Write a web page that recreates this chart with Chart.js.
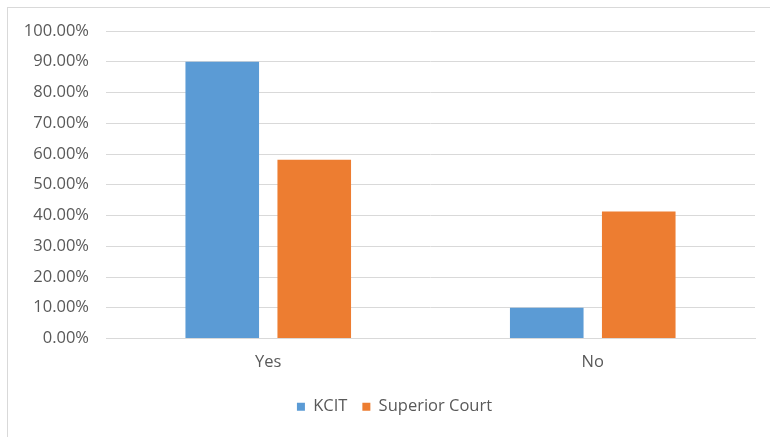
<!DOCTYPE html>
<html>
<head>
<meta charset="utf-8">
<script src="https://cdn.jsdelivr.net/npm/chart.js@4/dist/chart.umd.min.js"></script>
<style>
  html, body { margin: 0; padding: 0; background: #fff; overflow: hidden; }
  #frame { position: absolute; left: 7px; top: 7px; width: 820px; height: 480px; border: 1px solid #d9d9d9; }
  #wrap { position: absolute; left: 0; top: 0; width: 770px; height: 437px; }
</style>
</head>
<body>
<div id="frame"></div>
<div id="wrap"><canvas id="chart"></canvas></div>
<script>
const categories = ['Yes', 'No'];
const kcitValues = [90, 10];
const superiorValues = [58.1, 41.3];
const yTicks = [0, 10, 20, 30, 40, 50, 60, 70, 80, 90, 100];

const textColor = '#595959';
const gridColor = '#d9d9d9';
const font = { family: 'Open Sans', size: 16.5 };

const ctx = document.getElementById('chart').getContext('2d');

// the legend sits a bit right of centre in the original
const shiftLegend = {
  id: 'shiftLegend',
  afterLayout(chart) {
    chart.legend.left += 17;
    chart.legend.right += 17;
  }
};

new Chart(ctx, {
  type: 'bar',
  data: {
    labels: categories,
    datasets: [
      {
        label: 'KCIT',
        data: kcitValues,
        backgroundColor: '#5b9bd5',
        barPercentage: 0.8,
        categoryPercentage: 0.567
      },
      {
        label: 'Superior Court',
        data: superiorValues,
        backgroundColor: '#ed7d31',
        barPercentage: 0.8,
        categoryPercentage: 0.567
      }
    ]
  },
  plugins: [shiftLegend],
  options: {
    responsive: true,
    maintainAspectRatio: false,
    animation: false,
    layout: {
      padding: { left: 0, right: 15, top: 31, bottom: 12 }
    },
    plugins: {
      tooltip: { enabled: false },
      legend: {
        position: 'bottom',
        labels: {
          color: textColor,
          font: font,
          boxWidth: 8,
          boxHeight: 8,
          padding: 15
        }
      }
    },
    scales: {
      x: {
        grid: { display: false, drawTicks: false },
        border: { color: gridColor },
        ticks: { color: textColor, font: font, padding: 14 },
        afterFit: (scale) => { scale.height = 45; }
      },
      y: {
        min: 0,
        max: 100,
        afterBuildTicks: (scale) => {
          scale.ticks = yTicks.map(v => ({ value: v }));
        },
        afterFit: (scale) => { scale.width = 106; },
        grid: { color: gridColor, drawTicks: false },
        border: { display: false },
        ticks: {
          color: textColor,
          font: font,
          padding: 17,
          callback: (v) => v.toFixed(2) + '%'
        }
      }
    }
  }
});
</script>
</body>
</html>
